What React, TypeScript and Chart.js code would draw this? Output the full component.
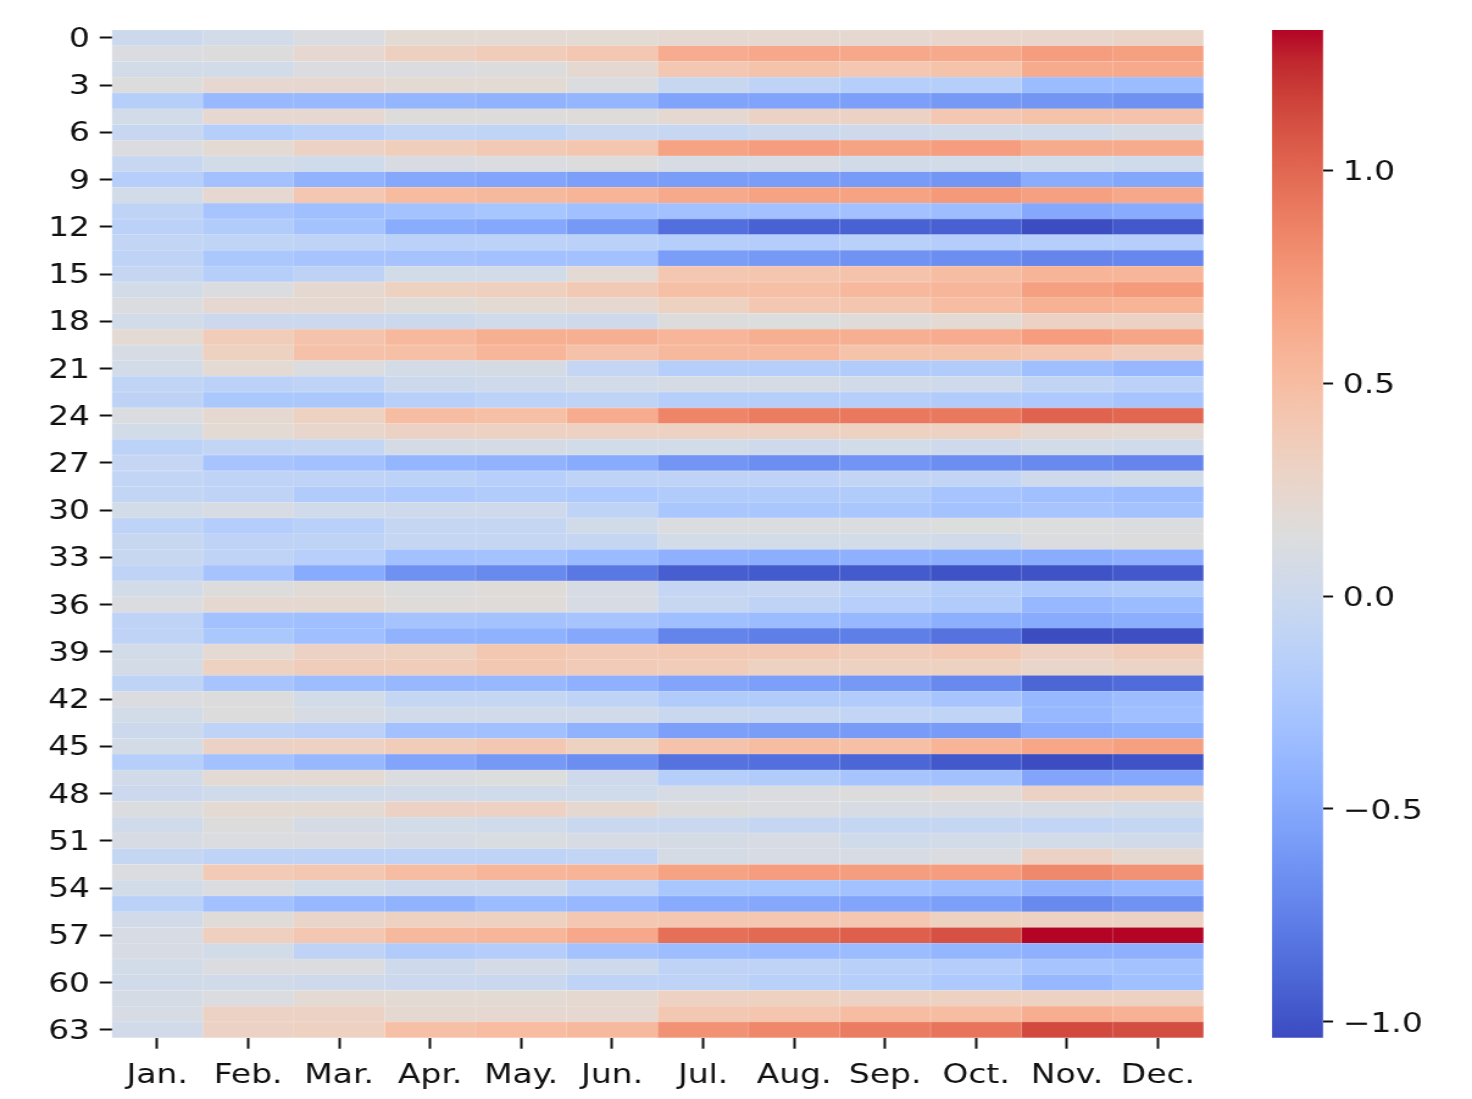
import React, { useEffect, useRef } from 'react';
import { Chart, registerables } from 'chart.js';

Chart.register(...registerables);

// ---------------- data ----------------
const months = ['Jan.', 'Feb.', 'Mar.', 'Apr.', 'May.', 'Jun.', 'Jul.', 'Aug.', 'Sep.', 'Oct.', 'Nov.', 'Dec.'];
const rowLabels = Array.from({ length: 64 }, (_, i) => String(i));
const colorbarTicks = [-1, -0.5, 0, 0.5, 1];
const vmin = -1.037;
const vmax = 1.329;

const jan = [0.00, 0.12, 0.05, 0.15, -0.17, 0.05, -0.04, 0.12, -0.04, -0.17,
  0.05, -0.10, -0.13, -0.07, -0.10, -0.05, 0.05, 0.12, 0.05, 0.20,
  0.09, 0.05, -0.09, -0.11, 0.12, 0.05, -0.12, -0.06, -0.07, -0.07,
  0.05, -0.10, -0.03, -0.03, -0.10, 0.05, 0.12, -0.10, -0.10, 0.05,
  0.06, -0.10, 0.12, 0.05, 0.00, 0.06, -0.17, 0.04, -0.01, 0.12,
  0.03, 0.09, -0.05, 0.12, 0.05, -0.13, 0.04, 0.09, 0.09, 0.05,
  0.04, 0.08, 0.09, 0.04];
const feb = [0.05, 0.15, 0.05, 0.23, -0.37, 0.23, -0.17, 0.20, 0.05, -0.30,
  0.23, -0.27, -0.20, -0.09, -0.24, -0.17, 0.13, 0.23, -0.01, 0.37,
  0.32, 0.20, -0.13, -0.24, 0.22, 0.20, -0.07, -0.27, -0.10, -0.10,
  0.09, -0.18, -0.10, -0.10, -0.28, 0.15, 0.22, -0.30, -0.24, 0.21,
  0.32, -0.27, 0.15, 0.15, -0.10, 0.30, -0.30, 0.20, 0.03, 0.20,
  0.15, 0.13, -0.10, 0.39, 0.12, -0.30, 0.17, 0.34, 0.05, 0.12,
  0.04, 0.13, 0.30, 0.30];
const mar = [0.12, 0.23, 0.12, 0.23, -0.37, 0.23, -0.13, 0.30, 0.03, -0.42,
  0.42, -0.32, -0.29, -0.10, -0.27, -0.11, 0.22, 0.22, -0.01, 0.45,
  0.47, 0.12, -0.10, -0.24, 0.32, 0.25, -0.05, -0.30, -0.10, -0.20,
  0.03, -0.14, -0.10, -0.16, -0.48, 0.18, 0.22, -0.32, -0.32, 0.30,
  0.36, -0.34, 0.05, 0.09, -0.13, 0.31, -0.38, 0.20, 0.03, 0.20,
  0.08, 0.12, -0.10, 0.42, 0.05, -0.38, 0.27, 0.42, -0.10, 0.12,
  0.02, 0.20, 0.30, 0.32];
const apr = [0.20, 0.33, 0.13, 0.20, -0.40, 0.16, -0.07, 0.35, 0.10, -0.50,
  0.52, -0.29, -0.47, -0.13, -0.28, 0.05, 0.32, 0.17, 0.00, 0.53,
  0.48, 0.06, 0.00, -0.15, 0.50, 0.30, 0.08, -0.40, -0.12, -0.23,
  0.02, -0.05, -0.05, -0.30, -0.65, 0.15, 0.17, -0.28, -0.42, 0.32,
  0.36, -0.38, -0.05, 0.04, -0.30, 0.37, -0.52, 0.12, 0.04, 0.30,
  0.05, 0.09, -0.10, 0.50, 0.02, -0.42, 0.32, 0.53, -0.20, 0.02,
  -0.01, 0.20, 0.22, 0.48];
const may = [0.20, 0.37, 0.15, 0.20, -0.42, 0.16, -0.09, 0.40, 0.12, -0.52,
  0.53, -0.26, -0.50, -0.12, -0.30, 0.05, 0.34, 0.20, 0.03, 0.60,
  0.55, 0.08, 0.02, -0.12, 0.48, 0.31, 0.08, -0.42, -0.16, -0.20,
  0.02, -0.05, -0.05, -0.29, -0.70, 0.17, 0.17, -0.29, -0.43, 0.41,
  0.41, -0.38, -0.05, 0.04, -0.31, 0.41, -0.60, 0.14, 0.03, 0.31,
  0.03, 0.11, -0.10, 0.55, 0.02, -0.35, 0.32, 0.56, -0.18, 0.07,
  -0.02, 0.20, 0.23, 0.51];
const jun = [0.20, 0.42, 0.22, 0.12, -0.40, 0.17, -0.02, 0.43, 0.15, -0.56,
  0.57, -0.31, -0.60, -0.13, -0.30, 0.20, 0.40, 0.22, 0.02, 0.60,
  0.47, -0.06, 0.05, -0.10, 0.62, 0.31, 0.05, -0.48, -0.10, -0.23,
  -0.10, 0.04, -0.05, -0.36, -0.80, 0.09, 0.09, -0.27, -0.50, 0.38,
  0.38, -0.44, -0.10, 0.04, -0.42, 0.32, -0.67, 0.02, 0.03, 0.22,
  -0.02, 0.09, -0.07, 0.57, -0.10, -0.38, 0.42, 0.65, -0.29, 0.02,
  -0.10, 0.22, 0.23, 0.53];
const jul = [0.22, 0.62, 0.42, -0.03, -0.53, 0.22, -0.04, 0.68, 0.09, -0.57,
  0.64, -0.30, -0.85, -0.17, -0.57, 0.42, 0.48, 0.32, 0.15, 0.56,
  0.53, -0.17, 0.08, -0.17, 0.85, 0.31, 0.05, -0.62, -0.10, -0.20,
  -0.25, 0.12, 0.05, -0.44, -0.94, -0.06, -0.04, -0.32, -0.73, 0.40,
  0.37, -0.52, -0.20, -0.02, -0.56, 0.45, -0.83, -0.17, 0.09, 0.15,
  -0.02, 0.08, 0.08, 0.68, -0.25, -0.48, 0.42, 0.96, -0.34, -0.10,
  -0.10, 0.31, 0.41, 0.78];
const aug = [0.22, 0.65, 0.46, -0.10, -0.53, 0.30, 0.00, 0.72, 0.09, -0.57,
  0.68, -0.30, -0.92, -0.18, -0.60, 0.43, 0.48, 0.42, 0.14, 0.60,
  0.53, -0.17, 0.08, -0.17, 0.90, 0.31, 0.02, -0.67, -0.10, -0.20,
  -0.25, 0.12, 0.05, -0.46, -0.96, -0.04, -0.10, -0.35, -0.76, 0.40,
  0.32, -0.56, -0.20, -0.04, -0.57, 0.50, -0.85, -0.20, 0.12, 0.12,
  -0.05, 0.09, 0.09, 0.72, -0.26, -0.50, 0.42, 0.99, -0.36, -0.10,
  -0.14, 0.32, 0.43, 0.84];
const sep = [0.22, 0.65, 0.42, -0.17, -0.56, 0.30, 0.02, 0.68, 0.04, -0.59,
  0.68, -0.30, -0.92, -0.14, -0.64, 0.45, 0.53, 0.43, 0.17, 0.60,
  0.46, -0.20, 0.04, -0.17, 0.92, 0.32, 0.05, -0.63, -0.07, -0.20,
  -0.25, 0.12, 0.05, -0.44, -0.96, -0.10, -0.16, -0.38, -0.76, 0.36,
  0.32, -0.60, -0.20, -0.07, -0.59, 0.48, -0.90, -0.27, 0.15, 0.09,
  -0.05, 0.03, 0.09, 0.71, -0.30, -0.52, 0.42, 1.04, -0.35, -0.14,
  -0.17, 0.30, 0.50, 0.90];
const oct = [0.25, 0.64, 0.46, -0.17, -0.60, 0.42, 0.04, 0.72, 0.05, -0.62,
  0.74, -0.34, -0.93, -0.18, -0.67, 0.50, 0.56, 0.50, 0.20, 0.62,
  0.46, -0.20, 0.02, -0.20, 0.92, 0.31, 0.02, -0.67, -0.07, -0.27,
  -0.29, 0.14, 0.04, -0.46, -1.00, -0.17, -0.20, -0.45, -0.83, 0.40,
  0.32, -0.70, -0.27, -0.09, -0.59, 0.57, -0.97, -0.30, 0.19, 0.09,
  -0.05, 0.05, 0.12, 0.72, -0.34, -0.56, 0.32, 1.10, -0.40, -0.18,
  -0.23, 0.32, 0.50, 0.94];
const nov = [0.25, 0.72, 0.63, -0.35, -0.62, 0.46, 0.04, 0.63, 0.05, -0.47,
  0.70, -0.50, -1.03, -0.17, -0.72, 0.57, 0.70, 0.59, 0.30, 0.72,
  0.43, -0.32, -0.08, -0.23, 1.02, 0.22, 0.05, -0.70, 0.02, -0.31,
  -0.27, 0.14, 0.12, -0.47, -1.00, -0.22, -0.38, -0.48, -1.03, 0.31,
  0.27, -0.90, -0.38, -0.38, -0.48, 0.66, -1.03, -0.52, 0.30, 0.09,
  -0.07, 0.05, 0.30, 0.83, -0.42, -0.70, 0.31, 1.33, -0.44, -0.27,
  -0.38, 0.31, 0.61, 1.13];
const dec = [0.28, 0.70, 0.64, -0.35, -0.65, 0.45, 0.08, 0.63, 0.03, -0.51,
  0.65, -0.48, -0.97, -0.17, -0.71, 0.55, 0.73, 0.57, 0.30, 0.67,
  0.36, -0.38, -0.13, -0.27, 1.00, 0.21, 0.03, -0.72, 0.05, -0.34,
  -0.29, 0.12, 0.15, -0.44, -0.97, -0.20, -0.35, -0.46, -1.02, 0.36,
  0.29, -0.87, -0.34, -0.32, -0.45, 0.70, -1.00, -0.50, 0.32, 0.05,
  -0.05, 0.04, 0.22, 0.78, -0.38, -0.64, 0.30, 1.33, -0.44, -0.29,
  -0.31, 0.31, 0.59, 1.12];

const monthValues = [jan, feb, mar, apr, may, jun, jul, aug, sep, oct, nov, dec];

// ---------------- colour map (matplotlib coolwarm) ----------------
const COOLWARM: number[][] = [
  [0.2298057, 0.298717966, 0.753683153], [0.26623388, 0.353094838, 0.801466763],
  [0.30386891, 0.406535296, 0.84495867], [0.342804478, 0.458757618, 0.883725899],
  [0.38301334, 0.50941904, 0.917387822], [0.424369608, 0.558148092, 0.945619588],
  [0.46666708, 0.604562568, 0.968154911], [0.509635204, 0.648280772, 0.98478814],
  [0.552953156, 0.688929332, 0.995375608], [0.596262162, 0.726149107, 0.999836203],
  [0.639176211, 0.759599947, 0.998151185], [0.681291281, 0.788964712, 0.990363227],
  [0.722193294, 0.813952739, 0.976574709], [0.761464949, 0.834302879, 0.956945269],
  [0.798691636, 0.849786142, 0.931688648], [0.833466556, 0.860207984, 0.901068838],
  [0.865395197, 0.86541021, 0.865395561], [0.897787179, 0.848937047, 0.820880546],
  [0.924127593, 0.827384882, 0.774508472], [0.944468518, 0.800927443, 0.726736146],
  [0.958852946, 0.769767752, 0.678007945], [0.96732803, 0.734132809, 0.628751763],
  [0.969954137, 0.694266682, 0.579375448], [0.966811177, 0.650421156, 0.530263762],
  [0.958003065, 0.602842431, 0.481775914], [0.943660866, 0.551750968, 0.434243684],
  [0.923944917, 0.49730856, 0.387970225], [0.89904617, 0.439559467, 0.343229596],
  [0.869186849, 0.378313092, 0.300267182], [0.834620542, 0.312874446, 0.259301199],
  [0.795631745, 0.24128379, 0.220525627], [0.752534934, 0.157246067, 0.184115123],
  [0.705673158, 0.01555616, 0.150232812],
];

function coolwarm(t: number): number[] {
  const c = Math.max(0, Math.min(1, t));
  const n = COOLWARM.length - 1;
  const x = c * n;
  const i = Math.min(Math.floor(x), n - 1);
  const f = x - i;
  return [0, 1, 2].map((k) => COOLWARM[i][k] + (COOLWARM[i + 1][k] - COOLWARM[i][k]) * f);
}

function colorFor(v: number, lighten = 0): string {
  const rgb = coolwarm((v - vmin) / (vmax - vmin));
  const [r, g, b] = rgb.map((c) => Math.round(255 * (c + (1 - c) * lighten)));
  return `rgb(${r},${g},${b})`;
}

// ---------------- layout (canvas is stretched horizontally like the reference) ----------------
const PAGE_W = 1472;
const PAGE_H = 1099;
const CANVAS_W = 1207;
const S = PAGE_W / CANVAS_W;
const FONT = { family: 'DejaVu Sans', size: 27 };
const TEXT = '#111111';

const plotLeft = 111.7 / S;
const plotRight = 1203.5 / S;
const plotTop = 30;
const plotBottom = 1037.7;
const cbLeft = 1272 / S;
const cbRight = 1323 / S;

export default function App() {
  const mainRef = useRef<HTMLCanvasElement | null>(null);
  const cbRef = useRef<HTMLCanvasElement | null>(null);

  useEffect(() => {
    if (!mainRef.current || !cbRef.current) return;

    const main = new Chart(mainRef.current, {
      type: 'bar',
      data: {
        labels: rowLabels,
        datasets: months.map((m, mi) => ({
          label: m,
          data: rowLabels.map(() => [mi, mi + 1]),
          backgroundColor: monthValues[mi].map((v) => colorFor(v)),
          borderColor: monthValues[mi].map((v) => colorFor(v, 0.3)),
          borderWidth: 0.6,
          borderSkipped: false,
          grouped: false,
          barPercentage: 1,
          categoryPercentage: 1,
        })) as any,
      },
      options: {
        indexAxis: 'y',
        responsive: false,
        animation: false,
        devicePixelRatio: 1,
        events: [],
        layout: { padding: { left: 0, top: plotTop, right: CANVAS_W - plotRight, bottom: 0 } },
        plugins: { legend: { display: false }, tooltip: { enabled: false } },
        scales: {
          y: {
            type: 'category',
            position: 'left',
            offset: true,
            grid: {
              display: true,
              offset: false,
              drawOnChartArea: false,
              drawTicks: true,
              tickLength: 12 / S,
              tickWidth: 2,
              tickColor: TEXT,
            },
            border: { display: false },
            ticks: {
              autoSkip: false,
              font: FONT,
              color: TEXT,
              padding: 8,
              labelOffset: 2,
              callback: (v: any) => rowLabels[Number(v)],
            },
            afterBuildTicks: (s: any) => {
              s.ticks = s.ticks.filter((t: any) => t.value % 3 === 0);
            },
            afterFit: (s: any) => {
              s.width = plotLeft;
            },
          },
          x: {
            type: 'linear',
            position: 'bottom',
            min: 0,
            max: months.length,
            grid: {
              display: true,
              drawOnChartArea: false,
              drawTicks: true,
              tickLength: 11,
              tickWidth: 2,
              tickColor: TEXT,
            },
            border: { display: false },
            ticks: {
              font: FONT,
              color: TEXT,
              padding: 11,
              maxRotation: 0,
              autoSkip: false,
              callback: (v: any) => months[Math.floor(Number(v))],
            },
            afterBuildTicks: (s: any) => {
              s.ticks = months.map((_, i) => ({ value: i + 0.5 }));
            },
            afterFit: (s: any) => {
              s.height = PAGE_H - plotBottom;
            },
          },
        },
      },
    });

    const cb = new Chart(cbRef.current, {
      type: 'bar',
      data: {
        labels: ['colorbar'],
        datasets: [
          {
            label: 'colorbar',
            data: [[vmin, vmax]] as any,
            backgroundColor: (ctx: any) => {
              const chart = ctx.chart;
              const area = chart.chartArea;
              if (!area) return 'rgba(0,0,0,0)';
              const g = chart.ctx.createLinearGradient(0, area.bottom, 0, area.top);
              COOLWARM.forEach((c, i) => {
                g.addColorStop(i / (COOLWARM.length - 1), `rgb(${Math.round(c[0] * 255)},${Math.round(c[1] * 255)},${Math.round(c[2] * 255)})`);
              });
              return g;
            },
            borderWidth: 0,
            barPercentage: 1,
            categoryPercentage: 1,
          },
        ],
      },
      options: {
        responsive: false,
        animation: false,
        devicePixelRatio: 1,
        events: [],
        layout: { padding: { left: cbLeft, top: plotTop, right: 0, bottom: PAGE_H - plotBottom } },
        plugins: { legend: { display: false }, tooltip: { enabled: false } },
        scales: {
          x: { display: false },
          y: {
            type: 'linear',
            position: 'right',
            min: vmin,
            max: vmax,
            grid: {
              display: true,
              drawOnChartArea: false,
              drawTicks: true,
              tickLength: 10 / S,
              tickWidth: 2,
              tickColor: TEXT,
            },
            border: { display: false },
            ticks: {
              font: FONT,
              color: TEXT,
              padding: 8,
              labelOffset: 3,
              callback: (v: any) => {
                const n = Number(v);
                return (n < 0 ? '\u2212' : '') + Math.abs(n).toFixed(1);
              },
            },
            afterBuildTicks: (s: any) => {
              s.ticks = colorbarTicks.map((value) => ({ value }));
            },
            afterFit: (s: any) => {
              s.width = CANVAS_W - cbRight;
            },
          },
        },
      },
    });

    return () => {
      main.destroy();
      cb.destroy();
    };
  }, []);

  const style: React.CSSProperties = {
    position: 'absolute',
    left: 0,
    top: 0,
    width: `${PAGE_W}px`,
    height: `${PAGE_H}px`,
  };

  return (
    <div>
      <canvas ref={mainRef} width={CANVAS_W} height={PAGE_H} style={style} />
      <canvas ref={cbRef} width={CANVAS_W} height={PAGE_H} style={style} />
    </div>
  );
}
